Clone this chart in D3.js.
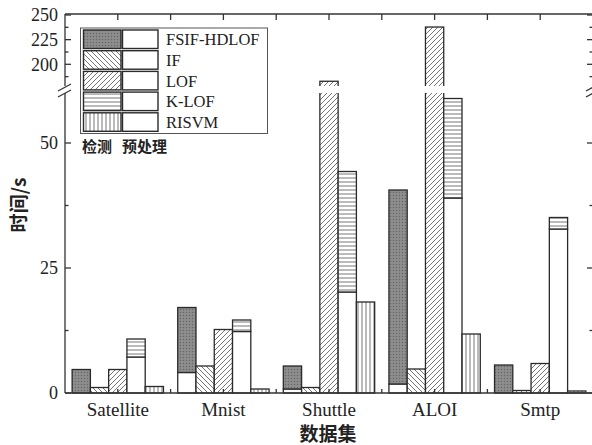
<!DOCTYPE html>
<html><head><meta charset="utf-8">
<script src="https://cdn.jsdelivr.net/npm/d3@7"></script>
<style>
html,body{margin:0;padding:0;background:#fff;}
svg{display:block;}
.lat{font-family:"Liberation Serif","Times New Roman",serif;fill:#222;}
.cjk{font-family:"Noto Sans CJK SC",sans-serif;font-weight:700;fill:#222;}
</style>
</head><body>
<script>
// ---------- data ----------
const datasets = ["Satellite", "Mnist", "Shuttle", "ALOI", "Smtp"];
const methods = ["FSIF-HDLOF", "IF", "LOF", "K-LOF", "RISVM"];
// detection time (patterned part), seconds
const detFSIF = [4.7, 13.0, 4.6, 38.8, 5.6];
const detIF = [1.1, 5.4, 1.1, 4.8, 0.5];
const detLOF = [4.7, 12.7, 182.8, 237.8, 5.9];
const detKLOF = [3.6, 2.3, 24.1, 19.9, 2.3];
const detRISVM = [1.3, 0.8, 18.2, 11.8, 0.4];
// preprocessing time (white part), seconds
const preFSIF = [0, 4.1, 0.8, 1.8, 0];
const preIF = [0, 0, 0, 0, 0];
const preLOF = [0, 0, 0, 0, 0];
const preKLOF = [7.2, 12.3, 20.2, 39.0, 32.8];
const preRISVM = [0, 0, 0, 0, 0];
const lowerTicks = [0, 25, 50];
const lowerMinor = [12.5, 37.5];
const upperTicks = [200, 225, 250];
const upperMinor = [187.5, 212.5, 237.5];
const legendDet = "检测";
const legendPre = "预处理";
const yTitle = "时间/s";
const xTitle = "数据集";

const detAll = [detFSIF, detIF, detLOF, detKLOF, detRISVM];
const preAll = [preFSIF, preIF, preLOF, preKLOF, preRISVM];
const patIds = ["pFSIF", "pIF", "pLOF", "pKLOF", "pRISVM"];

// ---------- layout ----------
const W = 592, H = 445;
const L = 65, R = 593, T = 14, B = 393;
const lowTop = 93, highBot = 86;

const svg = d3.select("body").append("svg").attr("width", W).attr("height", H);
const defs = svg.append("defs");

// patterns
function pat(id, size, draw, bg) {
  const p = defs.append("pattern").attr("id", id).attr("patternUnits", "userSpaceOnUse")
    .attr("width", size).attr("height", size);
  p.append("rect").attr("width", size).attr("height", size).attr("fill", bg || "#fff");
  draw(p);
}
pat("pFSIF", 3, p => {
  p.append("rect").attr("x", 0).attr("y", 0).attr("width", 1).attr("height", 1).attr("fill", "#666");
  p.append("rect").attr("x", 1.5).attr("y", 1.5).attr("width", 1).attr("height", 1).attr("fill", "#a0a0a0");
}, "#888");
pat("pIF", 5, p => {
  p.append("path").attr("d", "M0,0 L5,5 M-2.5,2.5 L2.5,7.5 M2.5,-2.5 L7.5,2.5").attr("stroke", "#666").attr("stroke-width", 0.9);
});
pat("pLOF", 5, p => {
  p.append("path").attr("d", "M0,5 L5,0 M-2.5,2.5 L2.5,-2.5 M2.5,7.5 L7.5,2.5").attr("stroke", "#666").attr("stroke-width", 0.9);
});
pat("pKLOF", 4, p => {
  p.append("path").attr("d", "M0,2 L4,2").attr("stroke", "#666").attr("stroke-width", 0.9);
});
pat("pRISVM", 4, p => {
  p.append("path").attr("d", "M2,0 L2,4").attr("stroke", "#666").attr("stroke-width", 0.9);
});

// scales
const x0 = d3.scaleBand().domain(datasets).range([L, R]).paddingInner(0.135).paddingOuter(0.0675);
const x1 = d3.scaleBand().domain(methods).range([0, x0.bandwidth()]);
const yLow = d3.scaleLinear().domain([0, 60]).range([B, lowTop]);
const yHigh = d3.scaleLinear().domain([178, 250]).range([highBot, 15]);
const y = v => (v <= 60 ? yLow(v) : yHigh(v));

// ---------- bars ----------
const barG = svg.append("g");
datasets.forEach((ds, i) => {
  methods.forEach((m, j) => {
    const bx = x0(ds) + x1(m), bw = x1.bandwidth();
    const pre = preAll[j][i], det = detAll[j][i];
    const tot = pre + det;
    if (pre > 0) {
      barG.append("rect").attr("x", bx).attr("y", y(pre)).attr("width", bw).attr("height", y(0) - y(pre))
        .attr("fill", "#fff").attr("stroke", "#2a2a2a").attr("stroke-width", 1.3);
    }
    barG.append("rect").attr("x", bx).attr("y", y(tot)).attr("width", bw).attr("height", y(pre) - y(tot))
      .attr("fill", `url(#${patIds[j]})`).attr("stroke", "#2a2a2a").attr("stroke-width", 1.3);
    if (tot > 60) {
      barG.append("rect").attr("x", bx - 1.5).attr("y", highBot).attr("width", bw + 3).attr("height", lowTop - highBot)
        .attr("fill", "#fff");
    }
  });
});

// ---------- frame & axes ----------
const ax = svg.append("g").attr("stroke", "#333").attr("stroke-width", 1.3).attr("fill", "none");
ax.append("line").attr("x1", L).attr("x2", R).attr("y1", T).attr("y2", T);
ax.append("line").attr("x1", L).attr("x2", R).attr("y1", B).attr("y2", B);
[L, R].forEach(xx => {
  ax.append("line").attr("x1", xx).attr("x2", xx).attr("y1", B).attr("y2", lowTop);
  ax.append("line").attr("x1", xx).attr("x2", xx).attr("y1", highBot).attr("y2", T);
});
function brk(xx) {
  ax.append("line").attr("x1", xx - 7).attr("y1", highBot + 5).attr("x2", xx + 6).attr("y2", highBot - 2).attr("stroke-width", 1.2);
  ax.append("line").attr("x1", xx - 7).attr("y1", lowTop + 4).attr("x2", xx + 6).attr("y2", lowTop - 3).attr("stroke-width", 1.2);
}
brk(L); brk(R);

function yTicks(scale, vals, len) {
  vals.forEach(v => {
    const yy = scale(v);
    ax.append("line").attr("x1", L).attr("x2", L + len).attr("y1", yy).attr("y2", yy);
    ax.append("line").attr("x1", R).attr("x2", R - len).attr("y1", yy).attr("y2", yy);
  });
}
yTicks(yLow, lowerTicks, 6); yTicks(yLow, lowerMinor, 3.5);
yTicks(yHigh, upperTicks, 6); yTicks(yHigh, upperMinor, 3.5);

const labG = svg.append("g");
function yLabels(scale, vals) {
  vals.forEach(v => {
    labG.append("text").attr("class", "lat").attr("x", 58).attr("y", scale(v)).attr("dy", "0.35em")
      .attr("text-anchor", "end").attr("font-size", 18).text(v);
  });
}
yLabels(yLow, lowerTicks); yLabels(yHigh, upperTicks);

const half = x0.step() * x0.paddingInner() / 2;
const xTickPos = [];
datasets.forEach((d, i) => {
  xTickPos.push({ x: x0(d) + x0.bandwidth() / 2, major: true });
  if (i > 0) xTickPos.push({ x: x0(d) - half, major: false });
});
xTickPos.forEach(t => {
  ax.append("line").attr("x1", t.x).attr("x2", t.x).attr("y1", T).attr("y2", T + 6);
  ax.append("line").attr("x1", t.x).attr("x2", t.x).attr("y1", B).attr("y2", B - 4);
});

const xAxis = d3.axisBottom(x0).tickSize(0).tickPadding(10);
const gx = svg.append("g").attr("transform", `translate(0,${B})`).call(xAxis);
gx.select(".domain").remove();
gx.selectAll("text").attr("class", "lat").attr("font-size", 19).attr("fill", "#222")
  .style("font-family", '"Liberation Serif",serif');

// titles
svg.append("text").attr("class", "cjk").attr("font-size", 19)
  .attr("transform", `translate(26,205) rotate(-90)`).attr("text-anchor", "middle").text(yTitle);
svg.append("text").attr("class", "cjk").attr("font-size", 19)
  .attr("x", 328).attr("y", 441).attr("text-anchor", "middle").text(xTitle);

// ---------- legend ----------
const lg = svg.append("g");
lg.append("rect").attr("x", 80.5).attr("y", 28).attr("width", 187).attr("height", 105.5)
  .attr("fill", "#fff").attr("stroke", "#555").attr("stroke-width", 1);
methods.forEach((m, j) => {
  const ry = 30 + j * 20.7;
  lg.append("rect").attr("x", 83.5).attr("y", ry).attr("width", 37.5).attr("height", 18.5)
    .attr("fill", `url(#${patIds[j]})`).attr("stroke", "#2a2a2a").attr("stroke-width", 1.4);
  lg.append("rect").attr("x", 122.5).attr("y", ry).attr("width", 35.5).attr("height", 18.5)
    .attr("fill", "#fff").attr("stroke", "#2a2a2a").attr("stroke-width", 1.4);
  lg.append("text").attr("class", "lat").attr("x", 166).attr("y", ry + 9.5).attr("dy", "0.35em")
    .attr("font-size", 16.5).text(m);
});
lg.append("text").attr("class", "cjk").attr("x", 82).attr("y", 152).attr("font-size", 15).text(legendDet);
lg.append("text").attr("class", "cjk").attr("x", 122).attr("y", 152).attr("font-size", 15).text(legendPre);
</script>
</body></html>
